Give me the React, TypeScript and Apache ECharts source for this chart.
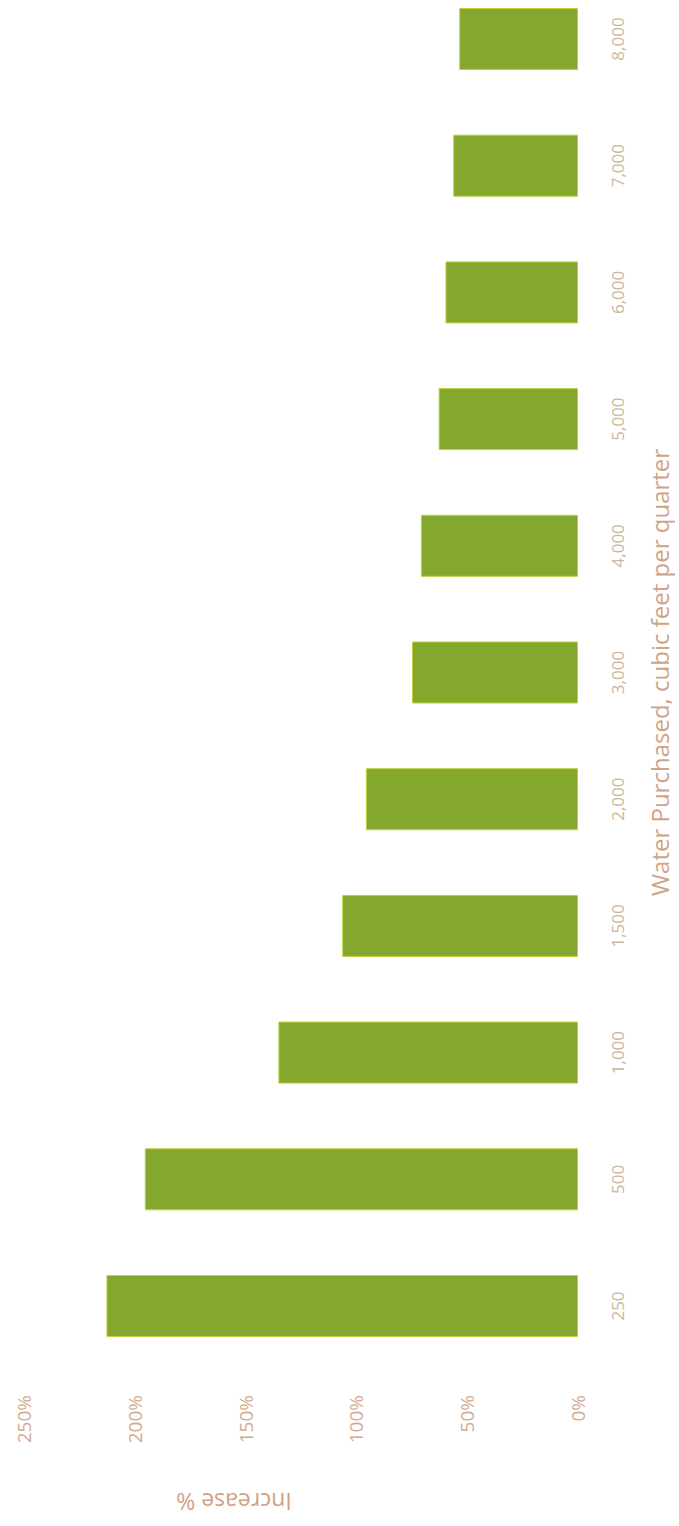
import React, { useEffect, useRef } from "react";
import * as echarts from "echarts";

const categories = ["250", "500", "1,000", "1,500", "2,000", "3,000", "4,000", "5,000", "6,000", "7,000", "8,000"];
const increasePct = [212.8, 195.5, 135.2, 106.4, 95.7, 74.9, 70.9, 62.9, 59.8, 56.3, 53.6];
const valueTicks = { min: 0, max: 250, interval: 50 };
const categoryTitle = "Water Purchased, cubic feet per quarter";
const valueTitle = "Increase %";

export default function App() {
  const ref = useRef<HTMLDivElement>(null);
  useEffect(() => {
    if (!ref.current) return;
    const chart = echarts.init(ref.current, null, { renderer: "svg" });
    const font = "'Open Sans', 'DejaVu Sans', sans-serif";
    chart.setOption({
      animation: false,
      backgroundColor: "#ffffff",
      grid: { left: 24, right: 91, top: 39, bottom: 220, containLabel: false },
      xAxis: {
        type: "value",
        inverse: true,
        min: valueTicks.min,
        max: valueTicks.max,
        interval: valueTicks.interval,
        position: "bottom",
        axisLine: { show: false },
        axisTick: { show: false },
        splitLine: { show: false },
        axisLabel: {
          rotate: 90,
          margin: 89,
          formatter: (v: number) => `${v}%`,
          color: "#d4aa8e",
          fontSize: 19,
          fontFamily: font,
        },
      },
      yAxis: {
        type: "category",
        data: categories,
        boundaryGap: false,
        position: "right",
        axisLine: { show: false },
        axisTick: { show: false },
        splitLine: { show: false },
        axisLabel: {
          rotate: 90,
          margin: 39,
          align: "center",
          verticalAlign: "middle",
          color: "#cbb7a0",
          fontSize: 17,
          fontFamily: font,
        },
        name: categoryTitle,
        nameLocation: "middle",
        nameRotate: 90,
        nameGap: 81,
        nameTextStyle: {
          color: "#cfa386",
          fontSize: 24,
          fontFamily: font,
          align: "center",
          verticalAlign: "middle",
        },
      },
      graphic: [
        {
          type: "text",
          x: 234,
          y: 1502,
          rotation: Math.PI,
          style: {
            text: valueTitle,
            fill: "#cf9f86",
            fontSize: 23,
            fontFamily: font,
            align: "center",
            verticalAlign: "middle",
          },
        },
      ],
      series: [
        {
          type: "bar",
          data: increasePct,
          barWidth: 62,
          itemStyle: { color: "#84a72e", borderColor: "#bfd03c", borderWidth: 1 },
        },
      ],
    });
    return () => chart.dispose();
  }, []);
  return <div ref={ref} style={{ position: "fixed", left: 0, top: 0, width: 679, height: 1526 }} />;
}
